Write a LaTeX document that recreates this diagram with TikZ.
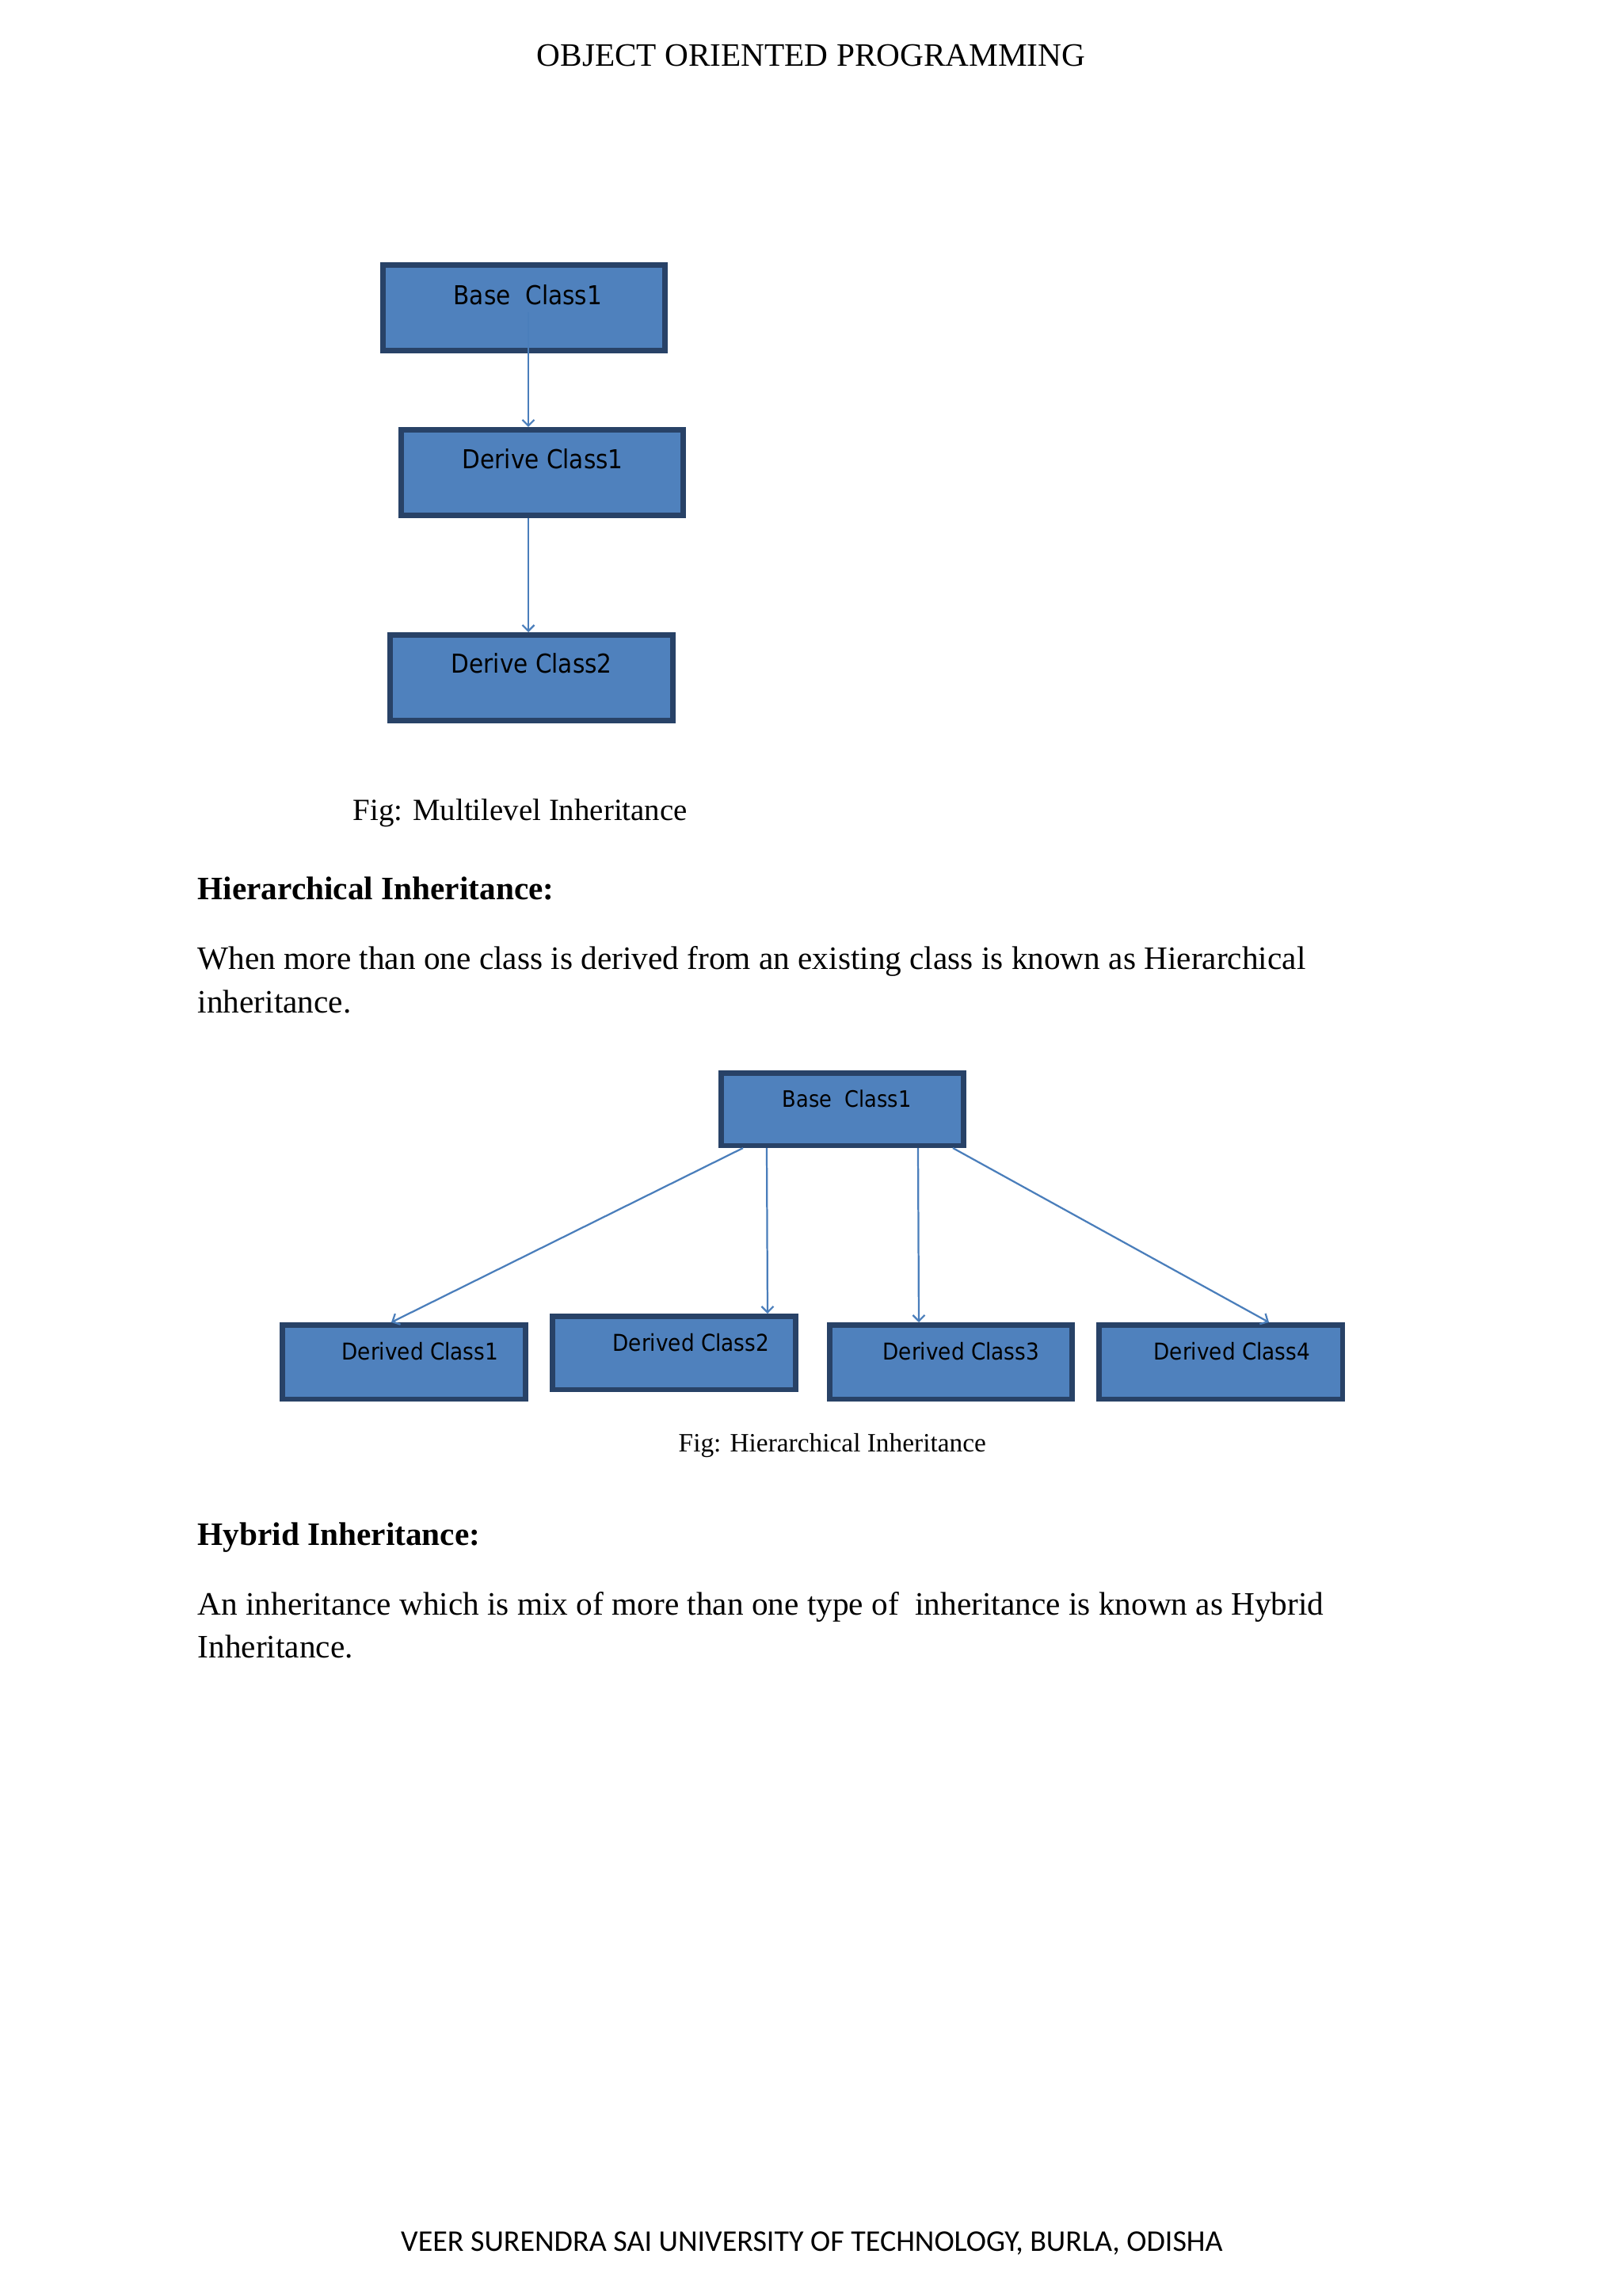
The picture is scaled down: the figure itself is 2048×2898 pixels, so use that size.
\documentclass[tikz,border=0pt]{standalone}
\usepackage{fontspec}
\setmainfont{Liberation Serif}
\newfontfamily\boxfont{DejaVu Sans Condensed}
\newfontfamily\footfont{Carlito}
\usetikzlibrary{arrows.meta}
\definecolor{boxfill}{RGB}{79,129,189}
\definecolor{boxline}{RGB}{40,66,103}
\definecolor{conncol}{RGB}{74,126,187}
\newcommand\pxbox[5]{\node[clsbox, minimum width=#4*0.29066pt, minimum height=#5*0.29066pt] (#1) at (#2,#3) {};}
\begin{document}
\begin{tikzpicture}[x=0.29066pt,y=-0.29066pt,
  clsbox/.style={draw=boxline, fill=boxfill, line width=1.9pt, inner sep=0pt},
  conn/.style={draw=conncol, line width=0.65pt, -{Straight Barb[length=2.2pt,width=4.4pt]}},
  txt/.style={inner sep=0pt, anchor=base west},
  mlab/.style={txt, font=\boxfont\fontsize{9.55}{11}\selectfont},
  hlab/.style={txt, font=\boxfont\fontsize{8.5}{10}\selectfont},
  body/.style={txt, font=\fontsize{12}{14}\selectfont},
  head/.style={txt, font=\bfseries\fontsize{12}{14}\selectfont}]
\useasboundingbox[fill=white] (0,0) rectangle (2048,2898);

% header / footer
\node[inner sep=0pt, anchor=base, font=\fontsize{12}{14}\selectfont] (hdr) at (1024,83) {OBJECT ORIENTED PROGRAMMING};
\node[inner sep=0pt, anchor=base, font=\footfont\fontsize{11.05}{13}\selectfont] (ftr) at (1025,2841) {VEER SURENDRA SAI UNIVERSITY OF TECHNOLOGY, BURLA, ODISHA};

% multilevel diagram
\pxbox{b1}{661.5}{388.5}{356.5}{108.5}
\pxbox{d1}{684.5}{596.5}{356.5}{108.5}
\pxbox{d2}{671}{855.5}{357.5}{108.5}
\node[mlab] (b1t) at (572,384) {Base\ \ Class1};
\node[mlab] (d1t) at (583,591) {Derive Class1};
\node[mlab] (d2t) at (569,849) {Derive Class2};
\coordinate (m1) at (667,394);
\draw[conn] (m1) -- (m1 |- d1.north);
\draw[conn] (m1 |- d1.south) -- (m1 |- d2.north);
\node[txt, font=\fontsize{11.3}{13}\selectfont] (cap1) at (445,1035) {Fig: Multilevel Inheritance};

% hierarchical text
\node[head] (h1head) at (249,1135) {Hierarchical Inheritance:};
\node[body] (p1a) at (249,1223) {When more than one class is derived from an existing class is known as Hierarchical};
\node[body] (p1b) at (249,1278) {inheritance.};

% hierarchical diagram
\pxbox{hb}{1063.5}{1400}{306.5}{91.5}
\pxbox{h1}{510}{1719}{307.5}{93.5}
\pxbox{h2}{851}{1707.5}{307.5}{92.5}
\pxbox{h3}{1200.5}{1719}{306.5}{93.5}
\pxbox{h4}{1541}{1719}{307.5}{93.5}
\node[hlab, font=\boxfont\fontsize{8.3}{10}\selectfont] (hbt) at (987,1397) {Base\ \ Class1};
\node[hlab] (h1t) at (431,1716) {Derived Class1};
\node[hlab] (h2t) at (773,1705) {Derived Class2};
\node[hlab] (h3t) at (1114,1716) {Derived Class3};
\node[hlab] (h4t) at (1456,1716) {Derived Class4};
\coordinate (s1) at (938,0);
\coordinate (s2) at (968,0);
\coordinate (s3) at (1159,0);
\coordinate (s4) at (1203,0);
\coordinate (e1) at (494,0);
\coordinate (e2) at (969,0);
\coordinate (e3) at (1160,0);
\coordinate (e4) at (1602,0);
\draw[conn] (s1 |- hb.south) -- (e1 |- h1.north);
\draw[conn] (s2 |- hb.south) -- (e2 |- h2.north);
\draw[conn] (s3 |- hb.south) -- (e3 |- h3.north);
\draw[conn] (s4 |- hb.south) -- (e4 |- h4.north);
\node[txt, font=\fontsize{9.7}{12}\selectfont] (cap2) at (856,1832) {Fig: Hierarchical Inheritance};

% hybrid text
\node[head] (h2head) at (249,1950) {Hybrid Inheritance:};
\node[body] (p2a) at (249,2038) {An inheritance which is mix of more than one type of\ \ inheritance is known as Hybrid};
\node[body] (p2b) at (249,2092) {Inheritance.};
\end{tikzpicture}
\end{document}
